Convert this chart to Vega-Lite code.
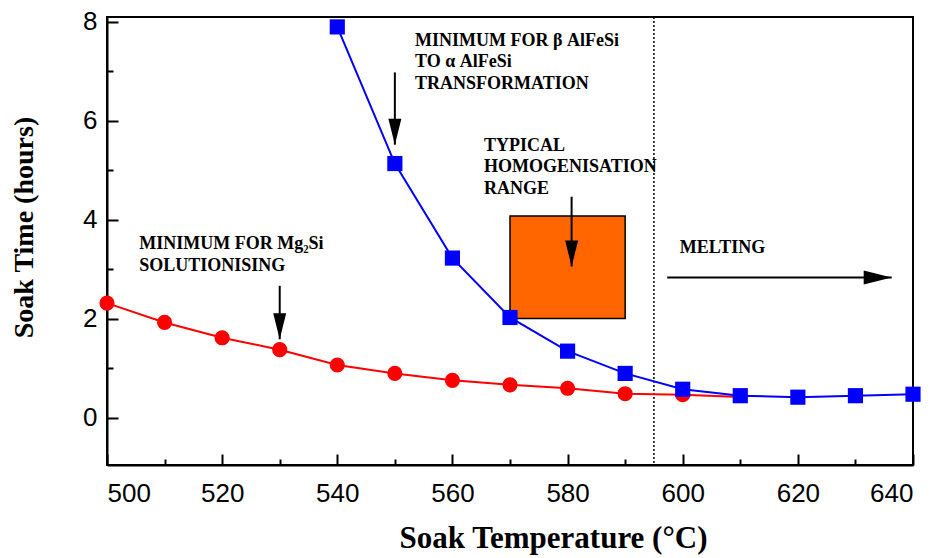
{
  "$schema": "https://vega.github.io/schema/vega-lite/v6.json",
  "width": 806,
  "height": 448,
  "autosize": {"type": "none"},
  "padding": {"left": 107, "top": 17, "right": 21, "bottom": 93},
  "background": "white",
  "config": {
    "view": {"stroke": "black", "strokeWidth": 2},
    "axis": {
      "grid": false,
      "domainColor": "black",
      "domainWidth": 2,
      "tickColor": "black",
      "tickWidth": 2,
      "labelFont": "Liberation Sans",
      "labelFontSize": 26,
      "labelColor": "black",
      "titleFont": "Liberation Serif",
      "titleFontWeight": "bold",
      "titleFontSize": 28,
      "titleColor": "black"
    }
  },
  "datasets": {
    "curves": [
      {"series": "Mg2Si", "temp": 500, "time": 2.32},
      {"series": "Mg2Si", "temp": 510, "time": 1.93},
      {"series": "Mg2Si", "temp": 520, "time": 1.62},
      {"series": "Mg2Si", "temp": 530, "time": 1.38},
      {"series": "Mg2Si", "temp": 540, "time": 1.07},
      {"series": "Mg2Si", "temp": 550, "time": 0.9},
      {"series": "Mg2Si", "temp": 560, "time": 0.76},
      {"series": "Mg2Si", "temp": 570, "time": 0.67},
      {"series": "Mg2Si", "temp": 580, "time": 0.6},
      {"series": "Mg2Si", "temp": 590, "time": 0.49},
      {"series": "Mg2Si", "temp": 600, "time": 0.47},
      {"series": "Mg2Si", "temp": 609, "time": 0.43},
      {"series": "AlFeSi", "temp": 540, "time": 7.9},
      {"series": "AlFeSi", "temp": 550, "time": 5.14},
      {"series": "AlFeSi", "temp": 560, "time": 3.23},
      {"series": "AlFeSi", "temp": 570, "time": 2.03},
      {"series": "AlFeSi", "temp": 580, "time": 1.35},
      {"series": "AlFeSi", "temp": 590, "time": 0.9},
      {"series": "AlFeSi", "temp": 600, "time": 0.58},
      {"series": "AlFeSi", "temp": 610, "time": 0.45},
      {"series": "AlFeSi", "temp": 620, "time": 0.42},
      {"series": "AlFeSi", "temp": 630, "time": 0.45},
      {"series": "AlFeSi", "temp": 640, "time": 0.48}
    ],
    "box": [{"temp": 570, "temp2": 590, "time": 2.01, "time2": 4.08}],
    "melt": [{"temp": 595}],
    "arrows": [
      {"temp": 530, "time": 2.67, "temp2": 530, "time2": 1.59, "dir": "down"},
      {"temp": 550, "time": 6.98, "temp2": 550, "time2": 5.52, "dir": "down"},
      {"temp": 580.7, "time": 4.47, "temp2": 580.7, "time2": 3.06, "dir": "down"},
      {"temp": 597.3, "time": 2.84, "temp2": 636.3, "time2": 2.84, "dir": "right"}
    ],
    "notes": [
      {"temp": 553.5, "time": 7.52, "label": "MINIMUM FOR β AlFeSi\nTO α AlFeSi\nTRANSFORMATION"},
      {"temp": 565.5, "time": 5.4, "label": "TYPICAL\nHOMOGENISATION\nRANGE"},
      {"temp": 505.6, "time": 3.41, "label": "MINIMUM FOR Mg₂Si\nSOLUTIONISING"},
      {"temp": 599.5, "time": 3.33, "label": "MELTING"}
    ]
  },
  "layer": [
    {
      "data": {"name": "melt"},
      "mark": {"type": "rule", "color": "black", "strokeWidth": 1.5, "strokeDash": [2, 2]},
      "encoding": {
        "x": {
          "field": "temp",
          "type": "quantitative",
          "scale": {"domain": [500, 640], "nice": false, "zero": false},
          "axis": {
            "title": "Soak Temperature (°C)",
            "values": [500, 510, 520, 530, 540, 550, 560, 570, 580, 590, 600, 610, 620, 630, 640],
            "labelExpr": "datum.value % 20 === 0 ? datum.label : ''",
            "tickSize": {"condition": {"test": "datum.value % 20 === 0", "value": -11}, "value": -6},
            "labelBaseline": "alphabetic",
            "labelPadding": 47,
            "titleFontSize": 31,
            "titleX": 446,
            "titleY": 82,
            "titleAnchor": null,
            "titleAlign": "center",
            "titleBaseline": "alphabetic"
          }
        }
      }
    },
    {
      "data": {"name": "box"},
      "mark": {"type": "rect", "fill": "#FF6600", "stroke": "black", "strokeWidth": 1.5},
      "encoding": {
        "x": {"field": "temp", "type": "quantitative"},
        "x2": {"field": "temp2"},
        "y": {
          "field": "time",
          "type": "quantitative",
          "scale": {"domain": [-0.95, 8.1], "nice": false, "zero": false},
          "axis": {
            "title": "Soak Time (hours)",
            "values": [0, 1, 2, 3, 4, 5, 6, 7, 8],
            "labelExpr": "datum.value % 2 === 0 ? datum.label : ''",
            "tickSize": {"condition": {"test": "datum.value % 2 === 0", "value": -11}, "value": -6},
            "labelPadding": 21,
            "titleX": -75,
            "titleY": 210,
            "titleAnchor": null,
            "titleAngle": 270,
            "titleAlign": "center",
            "titleBaseline": "alphabetic"
          }
        },
        "y2": {"field": "time2"}
      }
    },
    {
      "data": {"name": "curves"},
      "mark": {"type": "line", "interpolate": "linear", "strokeWidth": 2},
      "encoding": {
        "x": {"field": "temp", "type": "quantitative"},
        "y": {"field": "time", "type": "quantitative"},
        "color": {
          "field": "series",
          "type": "nominal",
          "scale": {"domain": ["Mg2Si", "AlFeSi"], "range": ["#FF0000", "#0000FF"]},
          "legend": null
        }
      }
    },
    {
      "data": {"name": "curves"},
      "transform": [{"filter": "datum.temp <= 600 || datum.series === 'AlFeSi'"}],
      "mark": {"type": "point", "filled": true, "opacity": 1, "size": 230},
      "encoding": {
        "x": {"field": "temp", "type": "quantitative"},
        "y": {"field": "time", "type": "quantitative"},
        "color": {"field": "series", "type": "nominal", "legend": null},
        "shape": {
          "field": "series",
          "type": "nominal",
          "scale": {"domain": ["Mg2Si", "AlFeSi"], "range": ["circle", "square"]},
          "legend": null
        }
      }
    },
    {
      "data": {"name": "arrows"},
      "mark": {"type": "rule", "color": "black", "strokeWidth": 2},
      "encoding": {
        "x": {"field": "temp", "type": "quantitative"},
        "y": {"field": "time", "type": "quantitative"},
        "x2": {"field": "temp2"},
        "y2": {"field": "time2"}
      }
    },
    {
      "data": {"name": "arrows"},
      "transform": [{"filter": "datum.dir === 'down'"}],
      "mark": {"type": "point", "filled": true, "opacity": 1, "color": "black", "size": 676, "shape": "M-0.5,-2L0.5,-2L0,0Z"},
      "encoding": {
        "x": {"field": "temp2", "type": "quantitative"},
        "y": {"field": "time2", "type": "quantitative"}
      }
    },
    {
      "data": {"name": "arrows"},
      "transform": [{"filter": "datum.dir === 'right'"}],
      "mark": {"type": "point", "filled": true, "opacity": 1, "color": "black", "size": 784, "shape": "M-2,-0.5L-2,0.5L0,0Z"},
      "encoding": {
        "x": {"field": "temp2", "type": "quantitative"},
        "y": {"field": "time2", "type": "quantitative"}
      }
    },
    {
      "data": {"name": "notes"},
      "mark": {
        "type": "text",
        "align": "left",
        "baseline": "alphabetic",
        "font": "Liberation Serif",
        "fontWeight": "bold",
        "fontSize": 18,
        "lineBreak": "\n",
        "lineHeight": 21.7,
        "color": "black"
      },
      "encoding": {
        "x": {"field": "temp", "type": "quantitative"},
        "y": {"field": "time", "type": "quantitative"},
        "text": {"field": "label"}
      }
    }
  ]
}
